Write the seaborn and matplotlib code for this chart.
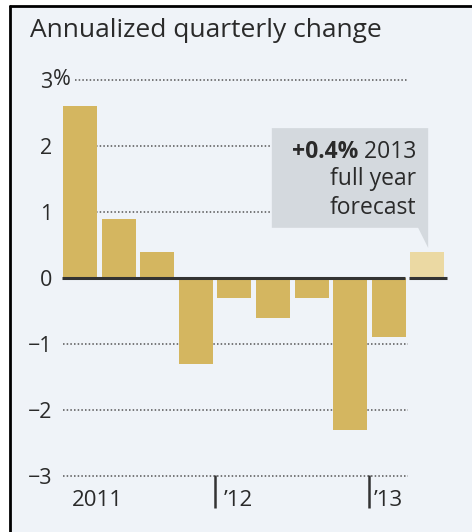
import matplotlib
matplotlib.use("Agg")
import matplotlib.pyplot as plt
import seaborn as sns
import pandas as pd
from matplotlib.patches import Polygon, Rectangle
from matplotlib.lines import Line2D

# ---- data ----
quarters = ["2011Q1", "2011Q2", "2011Q3", "2011Q4",
            "2012Q1", "2012Q2", "2012Q3", "2012Q4",
            "2013Q1", "2013F"]
values = [2.6, 0.9, 0.4, -1.3, -0.3, -0.6, -0.3, -2.3, -0.9, 0.4]
kinds = ["actual"] * 9 + ["forecast"]
ytick_vals = [3, 2, 1, 0, -1, -2, -3]
ytick_labels = ["3", "2", "1", "0", "\u22121", "\u22122", "\u22123"]
year_labels = ["2011", "\u201912", "\u201913"]
title = "Annualized quarterly change"
callout = ["+0.4%", " 2013", "full year", "forecast"]

BG = "#EFF3F8"
BAR = "#D4B660"
FBAR = "#EBD9A3"
BOX = "#D4D9DE"
TXT = "#2A2A2A"
FONT = "Open Sans"

sns.set_theme(style="white")
plt.rcParams["font.family"] = [FONT, "DejaVu Sans"]

fig = plt.figure(figsize=(4.72, 5.32), dpi=100)
fig.patch.set_facecolor("white")
fig.add_artist(Rectangle((9 / 472, 0), 1, 1 - 6 / 532, transform=fig.transFigure,
                         facecolor=BG, edgecolor="none", zorder=-10))
fig.add_artist(Line2D([9.5 / 472, 9.5 / 472], [0, 1 - 6 / 532], transform=fig.transFigure,
                      color="black", lw=2))
fig.add_artist(Line2D([9.5 / 472, 1], [1 - 6 / 532, 1 - 6 / 532], transform=fig.transFigure,
                      color="black", lw=2))

ax = fig.add_axes([0.1203, 0.0929, 0.8343, 0.7692])
ax.set_facecolor("none")

df = pd.DataFrame({"q": quarters, "value": values, "kind": kinds})
sns.barplot(data=df, x="q", y="value", hue="kind", order=quarters,
            palette={"actual": BAR, "forecast": FBAR}, width=0.88, dodge=False,
            saturation=1, legend=False, linewidth=0, ax=ax, zorder=2)

ax.set_xlim(-0.6, 9.6)
ax.set_ylim(-3.1, 3.1)
for s in ax.spines.values():
    s.set_visible(False)

# dotted gridlines
for v in ytick_vals:
    if v == 0:
        continue
    xmin = -0.13 if v == 3 else -0.45
    ax.hlines(v, xmin, 8.5, colors="#555555", linestyles=(0, (1, 1.4)), lw=1.1, zorder=1)
# zero line (two segments)
ax.hlines(0, -0.47, 8.42, colors="#333333", lw=2.2, zorder=3)
ax.hlines(0, 8.52, 9.5, colors="#333333", lw=2.2, zorder=3)

# y tick labels
ax.set_yticks(ytick_vals)
ax.set_yticklabels(ytick_labels, fontsize=15.5, color=TXT)
ax.tick_params(axis="y", length=0, pad=3)
ax.text(-0.0102, 3, "%", transform=ax.get_yaxis_transform(), ha="left", va="center",
        fontsize=15.5, color=TXT)

# x axis labels
ax.set_xticks([])
ax.set_xlabel("")
ax.set_ylabel("")
ax.vlines([3.5, 7.5], -2.985, -3.485, colors="#333333", lw=1.8, clip_on=False)
for xpos, lab in zip([-0.21, 3.73, 7.62], year_labels):
    ax.text(xpos, -3.45, lab, ha="left", va="baseline", fontsize=16, color=TXT, clip_on=False)

# callout box
ax.add_patch(Polygon([(4.97, 2.27), (9.02, 2.27), (9.02, 0.455), (8.76, 0.76), (4.97, 0.76)],
                     closed=True, facecolor=BOX, edgecolor="none", zorder=4))
t1 = ax.text(8.72, 1.82, callout[1], ha="right", va="baseline", fontsize=16.5, color=TXT, zorder=5)
ax.annotate(callout[0], xy=(0, 0), xycoords=t1, ha="right", va="bottom", fontsize=16.5,
            fontweight="bold", color=TXT, zorder=5)
ax.text(8.72, 1.41, callout[2], ha="right", va="baseline", fontsize=16.5, color=TXT, zorder=5)
ax.text(8.72, 0.97, callout[3], ha="right", va="baseline", fontsize=16.5, color=TXT, zorder=5)

fig.text(30 / 472, 1 - 37 / 532, title, ha="left", va="baseline", fontsize=19, color=TXT)

fig.savefig("out.png", dpi=100, facecolor="white")
